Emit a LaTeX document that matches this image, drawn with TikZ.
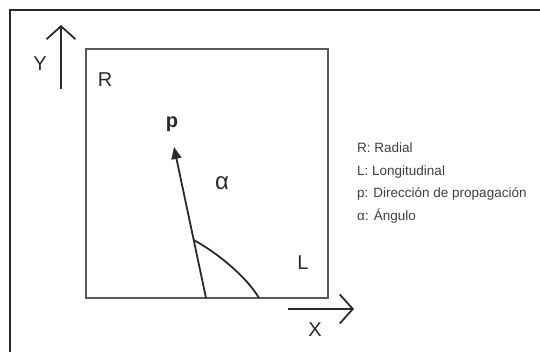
\documentclass[tikz,border=0pt]{standalone}
\usepackage{fontspec}
\setmainfont{Liberation Sans}
\usetikzlibrary{arrows.meta}
\definecolor{ink}{HTML}{2A2A2A}
\definecolor{boxgray}{HTML}{5A5A5A}
\begin{document}
\begin{tikzpicture}[x=1pt,y=-1pt,
  frame/.style={draw=ink,line width=2pt},
  sq/.style={draw=boxgray,line width=1.6pt},
  axis/.style={draw=ink,line width=1.8pt,-{Straight Barb[length=13pt,width=29pt,line width=1.8pt]}},
  dir/.style={draw=ink,line width=1.8pt,-{Triangle[length=12pt,width=10pt]}},
  big/.style={text=ink,font=\fontsize{20}{24}\selectfont,inner sep=0pt},
  leg/.style={text=ink!90,font=\fontsize{13.5}{16}\selectfont,inner sep=0pt,anchor=base west}]
\useasboundingbox (0,0) rectangle (540,351);
% outer frame
\draw[frame] (10,360) -- (10,10) -- (550,10);
% square
\draw[sq] (86,49) rectangle (328,298);
% axes
\coordinate (y0) at (61,89);
\coordinate (y1) at (61,25);
\draw[axis] (y0) -- (y1);
\coordinate (x0) at (288,309);
\coordinate (x1) at (354,309);
\draw[axis] (x0) -- (x1);
\node[big] (Y) at (40,64) {Y};
\node[big] (X) at (315,330) {X};
\node[big] (R) at (105,80) {R};
\node[big] (L) at (303,263) {L};
% propagation direction
\coordinate (tail) at (206,298);
\coordinate (tip) at (174,147);
\draw[dir] (tail) -- (tip);
\node[big,font=\bfseries\fontsize{20}{24}\selectfont] (p) at (172,124) {p};
% angle curve
\coordinate (a0) at (193.7,240);
\coordinate (a1) at (259,298);
\draw[draw=ink,line width=1.8pt] (a0) .. controls (216,252) and (246,276) .. (a1);
\node[big,font=\fontsize{24}{28}\selectfont] (alpha) at (222,183) {α};
% legend
\node[leg] (l1) at (357,152) {R: Radial};
\node[leg] (l2) at (357,175) {L: Longitudinal};
\node[leg] (l3) at (357,197) {p: Dirección de propagación};
\node[leg] (l4) at (357,220) {α: Ángulo};
\end{tikzpicture}
\end{document}
